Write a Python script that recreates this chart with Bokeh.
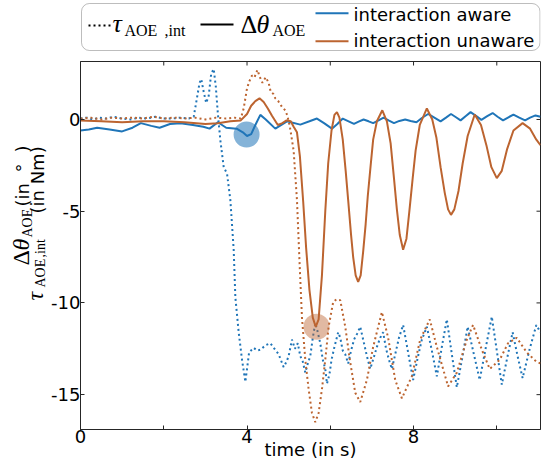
import numpy as np
from bokeh.plotting import figure
from bokeh.models import Range1d, FixedTicker, Label, BoxAnnotation
from bokeh.layouts import gridplot
from bokeh.embed import file_html
from bokeh.resources import INLINE

# ---------------- data ----------------
x_ticks = [0, 2, 4, 6, 8, 10]
x_tick_labels = ["0", "", "4", "", "8", ""]
y_ticks = [-15, -10, -5, 0]
y_tick_labels = ["-15", "-10", "-5", "0"]

# delta theta, interaction aware (blue solid)
t_theta_aware = [0, 0.2, 0.4, 0.7, 1.0, 1.25, 1.45, 1.7, 1.9, 2.15,
                 2.4, 2.7, 2.95, 3.1, 3.3, 3.5, 3.75, 3.9, 4.0, 4.1,
                 4.2, 4.32, 4.45, 4.68, 4.96, 5.28, 5.5, 5.68, 5.85, 6.04,
                 6.17, 6.3, 6.44, 6.57, 6.68, 6.8, 6.92, 7.03, 7.16, 7.28,
                 7.4, 7.53, 7.66, 7.8, 7.93, 8.07, 8.2, 8.35, 8.5, 8.65,
                 8.78, 8.9, 9.02, 9.13, 9.25, 9.37, 9.5, 9.63, 9.77, 9.9,
                 10.02, 10.15, 10.28, 10.4, 10.54, 10.68, 10.8, 10.93, 11.05]
theta_aware = [-0.6, -0.55, -0.45, -0.55, -0.65, -0.45, -0.2, -0.35, -0.45, -0.25,
               -0.2, -0.3, -0.4, -0.5, -0.15, -0.45, -0.5, -0.7, -0.9, -0.8,
               -0.3, 0.25, 0.0, -0.5, -0.1, -0.28, -0.1, 0.05, -0.2, -0.5,
               -0.25, 0.05, -0.1, -0.24, -0.12, 0.0, -0.1, -0.2, -0.05, 0.1,
               -0.05, -0.2, -0.08, 0.0, -0.08, -0.15, 0.08, 0.3, 0.1, -0.1,
               0.1, 0.3, 0.12, -0.05, 0.18, 0.4, 0.2, -0.02, 0.18, 0.35,
               0.15, -0.05, 0.12, 0.27, 0.1, -0.05, 0.1, 0.22, 0.15]

# delta theta, interaction unaware (orange solid)
t_theta_unaware = [0, 0.5, 1.0, 1.5, 2.0, 2.5, 3.0, 3.3, 3.6, 3.85,
                   4.0, 4.1, 4.2, 4.3, 4.4, 4.5, 4.6, 4.74, 4.85, 4.95,
                   5.05, 5.12, 5.2, 5.27, 5.35, 5.42, 5.5, 5.58, 5.65, 5.72,
                   5.8, 5.88, 5.95, 6.03, 6.1, 6.16, 6.22, 6.3, 6.37, 6.43,
                   6.5, 6.55, 6.61, 6.67, 6.73, 6.79, 6.85, 6.9, 6.97, 7.03,
                   7.12, 7.25, 7.36, 7.45, 7.53, 7.6, 7.67, 7.75, 7.83, 7.9,
                   7.98, 8.05, 8.15, 8.32, 8.45, 8.55, 8.65, 8.75, 8.83, 8.9,
                   8.98, 9.08, 9.18, 9.3, 9.47, 9.62, 9.75, 9.87, 10.0, 10.12,
                   10.25, 10.4, 10.62, 10.8, 10.95, 11.05]
theta_unaware = [-0.05, -0.1, -0.15, -0.1, -0.1, -0.15, -0.25, -0.2, -0.1, -0.05,
                 0.3, 0.75, 1.0, 1.15, 0.95, 0.6, 0.2, -0.3, -0.2, -0.05,
                 -0.1, -0.4, -0.7, -2.0, -4.5, -7.0, -9.3, -10.8, -11.3, -10.9,
                 -8.5, -5.0, -2.4, -0.6, 0.25, 0.4, 0.1, -1.1, -2.8, -4.4,
                 -6.3, -7.5, -8.5, -8.85, -8.5, -7.2, -5.7, -4.2, -2.5, -1.1,
                 -0.1, 0.5, -0.1, -1.3, -3.2, -4.9, -6.3, -7.1, -6.5, -5.0,
                 -3.2, -1.7, -0.3, 0.6, 0.0, -1.0, -2.6, -4.0, -4.9, -5.2,
                 -4.9, -3.9, -2.4, -0.9, 0.27, -0.3, -1.4, -2.6, -3.2, -2.8,
                 -1.6, -0.6, -0.2, -0.5, -1.1, -1.4]

# tau, interaction aware (blue dotted)
t_tau_aware = [0, 0.15, 0.3, 0.45, 0.6, 0.8, 1.0, 1.2, 1.4, 1.6,
               1.8, 2.0, 2.2, 2.4, 2.6, 2.72, 2.8, 2.86, 2.9, 2.96,
               3.02, 3.08, 3.14, 3.2, 3.25, 3.3, 3.36, 3.44, 3.52, 3.6,
               3.68, 3.72, 3.8, 3.88, 3.96, 4.0, 4.05, 4.16, 4.25, 4.32,
               4.45, 4.56, 4.66, 4.76, 4.88, 4.95, 5.0, 5.08, 5.15, 5.22,
               5.28, 5.34, 5.4, 5.46, 5.52, 5.58, 5.64, 5.7, 5.76, 5.82,
               5.88, 5.92, 5.98, 6.03, 6.1, 6.19, 6.24, 6.3, 6.36, 6.43,
               6.5, 6.57, 6.64, 6.72, 6.8, 6.88, 6.96, 7.04, 7.12, 7.2,
               7.27, 7.34, 7.41, 7.48, 7.56, 7.65, 7.75, 7.87, 7.99, 8.1,
               8.2, 8.32, 8.44, 8.56, 8.68, 8.8, 8.92, 9.04, 9.17, 9.3,
               9.45, 9.59, 9.73, 9.88, 10.0, 10.12, 10.25, 10.38, 10.5, 10.62,
               10.78, 10.95, 11.05]
tau_aware = [0.05, 0.1, 0.0, 0.1, 0.05, 0.15, 0.05, 0.0, 0.1, 0.05,
             0.15, 0.05, 0.05, 0.1, 0.05, 0.15, 1.2, 2.0, 2.2, 1.5,
             0.9, 1.3, 2.5, 2.75, 1.8, 0.3, -1.15, -2.6, -2.95, -4.4,
             -7.1, -9.7, -11.6, -13.1, -14.3, -13.6, -12.7, -12.45, -12.6, -12.55,
             -12.3, -12.2, -12.5, -12.8, -13.5, -13.2, -12.9, -12.0, -12.5, -12.2,
             -12.9, -13.2, -13.8, -13.3, -12.9, -11.9, -11.1, -11.6, -12.2, -13.1,
             -13.6, -14.4, -13.9, -13.1, -12.4, -11.6, -11.9, -12.6, -12.8, -13.3,
             -12.6, -12.0, -11.7, -11.3, -12.1, -12.9, -13.6, -13.0, -12.4, -11.9,
             -11.6, -12.5, -13.1, -13.6, -12.8, -11.9, -11.2, -12.7, -14.2, -13.0,
             -12.0, -11.3, -12.6, -14.0, -12.4, -10.9, -12.8, -14.6, -13.0, -11.3,
             -12.8, -14.2, -12.5, -10.75, -12.6, -14.45, -13.0, -11.6, -12.9, -14.1,
             -12.6, -11.2, -11.6]

# tau, interaction unaware (orange dotted)
t_tau_unaware = [0, 0.25, 0.5, 0.75, 1.0, 1.25, 1.5, 1.75, 2.0, 2.25,
                 2.5, 2.75, 3.0, 3.25, 3.5, 3.7, 3.85, 3.92, 4.0, 4.06,
                 4.12, 4.18, 4.25, 4.31, 4.37, 4.45, 4.52, 4.57, 4.63, 4.68,
                 4.75, 4.85, 4.92, 4.97, 5.03, 5.12, 5.2, 5.26, 5.32, 5.4,
                 5.48, 5.56, 5.64, 5.72, 5.8, 5.88, 5.96, 6.07, 6.15, 6.24,
                 6.36, 6.47, 6.6, 6.72, 6.88, 7.03, 7.24, 7.39, 7.56, 7.72,
                 7.96, 8.16, 8.39, 8.56, 8.71, 8.83, 9.04, 9.28, 9.43, 9.64,
                 9.83, 10.07, 10.27, 10.48, 10.72, 10.95, 11.05]
tau_unaware = [0.05, 0.1, 0.0, 0.1, 0.05, 0.1, 0.05, 0.15, 0.05, 0.1,
               0.05, 0.1, 0.0, 0.1, 0.05, 0.1, 0.05, 0.6, 1.7, 2.1,
               2.4, 2.3, 2.7, 2.3, 2.0, 2.3, 2.0, 1.5, 1.4, 1.15,
               1.0, 0.65, 0.5, 0.2, -0.4, -1.7, -4.4, -7.7, -10.8, -13.1,
               -14.7, -16.0, -16.5, -16.0, -14.7, -13.1, -11.3, -9.95, -9.8, -9.85,
               -11.3, -13.1, -14.9, -15.4, -14.2, -12.4, -10.5, -11.9, -14.2, -15.2,
               -14.0, -12.0, -10.9, -12.4, -13.6, -14.55, -13.8, -12.0, -11.2, -12.55,
               -13.6, -13.1, -12.2, -11.9, -12.7, -13.2, -13.3]

# highlighted events
mark_aware_t = [3.99]
mark_aware_v = [-0.82]
mark_unaware_t = [5.67]
mark_unaware_v = [-11.3]

# ---------------- style / geometry ----------------
BLUE = "#1f75b8"
ORANGE = "#bc6430"
AX = "#262626"
SANS = "DejaVu Sans"
SERIF = "Liberation Serif"
MID = 0.34   # distance (in em) from the text middle to the alphabetic baseline

XMIN, XMAX = 0.0, 11.05
YMIN, YMAX = -16.9, 3.16

TOTAL_W, TOTAL_H = 541, 464
W0 = 48              # y-label strip width
LEG_H = 52           # legend strip height
MAIN_W = TOTAL_W - W0
MAIN_H = TOTAL_H - LEG_H
ML, MR, MT, MB = 32, 1, 9, 35   # main borders
FRAME_W = MAIN_W - ML - MR
FRAME_H = MAIN_H - MT - MB

# page coordinates of the frame (layout sits at the page origin)
PX0 = W0 + ML
PX1 = PX0 + FRAME_W
PY0 = LEG_H + MT
PY1 = PY0 + FRAME_H

# ---------------- main plot ----------------
p = figure(width=MAIN_W, height=MAIN_H, x_range=Range1d(XMIN, XMAX), y_range=Range1d(YMIN, YMAX),
           toolbar_location=None, output_backend="svg",
           min_border_left=ML, min_border_right=MR, min_border_top=MT, min_border_bottom=MB)
p.grid.visible = False
p.outline_line_color = AX
p.background_fill_color = "white"
p.border_fill_color = "white"

for ax in (p.xaxis[0], p.yaxis[0]):
    ax.axis_line_color = AX
    ax.major_tick_line_color = AX
    ax.major_tick_in = 4
    ax.major_tick_out = 0
    ax.minor_tick_line_color = None
    ax.major_label_text_font = SANS
    ax.major_label_text_font_size = "18px"
    ax.major_label_text_color = "black"

p.xaxis.ticker = FixedTicker(ticks=x_ticks, minor_ticks=[])
p.xaxis.major_label_overrides = {t: s for t, s in zip(x_ticks, x_tick_labels)}
p.xaxis.major_label_standoff = 0
p.xaxis.axis_label = "time (in s)"
p.xaxis.axis_label_text_font = SANS
p.xaxis.axis_label_text_font_size = "18px"
p.xaxis.axis_label_text_font_style = "normal"
p.xaxis.axis_label_text_color = "black"
p.xaxis.axis_label_standoff = -7

p.yaxis.ticker = FixedTicker(ticks=y_ticks, minor_ticks=[])
p.yaxis.major_label_overrides = {t: s for t, s in zip(y_ticks, y_tick_labels)}
p.yaxis.major_label_standoff = 0

# inward tick marks on the top and right frame edges (same tick positions)
tdx = 4 * (XMAX - XMIN) / FRAME_W
tdy = 4 * (YMAX - YMIN) / FRAME_H
p.segment(x0=x_ticks, y0=[YMAX] * len(x_ticks), x1=x_ticks, y1=[YMAX - tdy] * len(x_ticks),
          line_color=AX, line_width=1)
p.segment(x0=[XMAX] * len(y_ticks), y0=y_ticks, x1=[XMAX - tdx] * len(y_ticks), y1=y_ticks,
          line_color=AX, line_width=1)

DOT = "2 3"
p.line(t_tau_aware, tau_aware, line_color=BLUE, line_width=2, line_dash=DOT)
p.line(t_tau_unaware, tau_unaware, line_color=ORANGE, line_width=2, line_dash=DOT)
p.line(t_theta_aware, theta_aware, line_color=BLUE, line_width=2)
p.line(t_theta_unaware, theta_unaware, line_color=ORANGE, line_width=2)
p.scatter(mark_aware_t, mark_aware_v, size=26, fill_color=BLUE, fill_alpha=0.55, line_color=None)
p.scatter(mark_unaware_t, mark_unaware_v, size=26, fill_color=ORANGE, fill_alpha=0.45, line_color=None)

# ---------------- y-label strip (page coordinates) ----------------
yl = figure(width=W0, height=MAIN_H, x_range=Range1d(0, W0), y_range=Range1d(PY1, PY0),
            toolbar_location=None, output_backend="svg",
            min_border_left=0, min_border_right=0, min_border_top=MT, min_border_bottom=MB,
            x_axis_location=None, y_axis_location=None)
yl.grid.visible = False
yl.outline_line_color = None
yl.background_fill_color = "white"
yl.border_fill_color = "white"

# (text, baseline x, start y, font, size px, style) -- text reads bottom to top
ylab = [
    ("Δ", 29, 265, SERIF, 24, "normal"),
    ("θ", 29, 250, SERIF, 24, "italic"),
    ("AOE", 32, 237, SERIF, 14, "normal"),
    ("(in", 28.5, 206, SANS, 18, "normal"),
    ("°", 28.5, 172, SANS, 18, "normal"),
    (")", 28.5, 152, SANS, 18, "normal"),
    ("τ", 42.5, 300, SERIF, 24, "italic"),
    ("AOE", 45, 287, SERIF, 14, "normal"),
    (",int", 45, 257, SERIF, 14, "normal"),
    ("(in Nm)", 43, 213, SANS, 18, "normal"),
]
for txt, bx, sy, fnt, sz, st in ylab:
    yl.add_layout(Label(x=bx - MID * sz, y=sy, text=txt, angle=np.pi / 2, angle_units="rad",
                        text_font=fnt, text_font_size=f"{sz}px", text_font_style=st,
                        text_align="left", text_baseline="middle", text_color="black"))

# ---------------- legend strip (page coordinates) ----------------
leg = figure(width=MAIN_W, height=LEG_H, x_range=Range1d(PX0, PX1), y_range=Range1d(LEG_H, 0),
             toolbar_location=None, output_backend="svg",
             min_border_left=ML, min_border_right=MR, min_border_top=0, min_border_bottom=0,
             x_axis_location=None, y_axis_location=None)
leg.grid.visible = False
leg.outline_line_color = None
leg.background_fill_color = "white"
leg.border_fill_color = "white"

leg.add_layout(BoxAnnotation(left=PX0 + 1, right=PX1 - 0.5, top=3, bottom=50,
                             fill_color=None, fill_alpha=0.0, line_color=AX, line_width=1,
                             border_radius=8))
leg.line([88, 110], [25, 25], line_color="black", line_width=2, line_dash=DOT)
leg.line([200, 233], [24, 24], line_color="black", line_width=2)
leg.line([315, 348], [12.7, 12.7], line_color=BLUE, line_width=2)
leg.line([315, 348], [40.7, 40.7], line_color=ORANGE, line_width=2)

# (text, x, baseline y, font, size px, style)
legtxt = [
    ("τ", 112, 32, SERIF, 26, "italic"),
    ("AOE", 124, 35, SERIF, 16, "normal"),
    (",int", 164, 35, SERIF, 16, "normal"),
    ("Δ", 240, 32.5, SERIF, 26, "normal"),
    ("θ", 256, 32.5, SERIF, 26, "italic"),
    ("AOE", 272, 35, SERIF, 16, "normal"),
    ("interaction aware", 353, 20.5, SANS, 18, "normal"),
    ("interaction unaware", 353, 46, SANS, 18, "normal"),
]
for txt, lx, by, fnt, sz, st in legtxt:
    leg.add_layout(Label(x=lx, y=by - MID * sz, text=txt, text_font=fnt, text_font_size=f"{sz}px",
                         text_font_style=st, text_align="left", text_baseline="middle",
                         text_color="black"))

grid = gridplot([[None, leg], [yl, p]], toolbar_location=None)
open("out.html", "w").write(file_html(grid, INLINE))
